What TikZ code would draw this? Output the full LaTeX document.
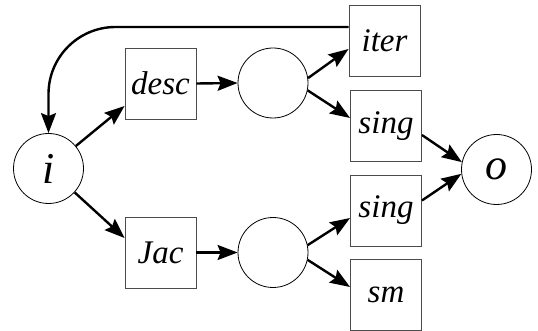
\documentclass[tikz,border=0pt]{standalone}
\usepackage{fontspec}
\setmainfont{Liberation Serif}
\usetikzlibrary{arrows.meta}
\tikzset{
  boxnode/.style={draw=black!70, line width=0.9pt, minimum size=71pt, inner sep=0pt,
    font=\fontsize{33}{33}\selectfont\itshape},
  place/.style={draw=black, line width=0.8pt, circle, minimum size=70pt, inner sep=0pt,
    font=\fontsize{44}{44}\selectfont\itshape},
  arr/.style={line width=2.4pt, -{Stealth[length=20pt,width=15pt,inset=3pt]}},
}
\begin{document}
\begin{tikzpicture}[x=1pt,y=-1pt]
\useasboundingbox (0,0) rectangle (538,331);
\node[place] (i) at (48.5,168.5) {i};
\node[boxnode] (desc) at (160.5,83.5) {desc};
\node[boxnode] (jac) at (160.5,252.5) {Jac};
\node[place] (c1) at (273,83) {};
\node[place] (c2) at (273,252.5) {};
\node[boxnode] (iter) at (384.5,41) {iter};
\node[boxnode] (singA) at (386,126) {sing};
\node[boxnode] (singB) at (386,210.5) {sing};
\node[boxnode] (sm) at (386,294.5) {sm};
\node[place] (o) at (496.5,169.5) {o};

\coordinate (fb) at ([yshift=14pt]iter.west);
\draw[arr, rounded corners=67pt] (fb) -| (i.north);

\draw[arr] (i) -- ([yshift=-22.5pt]desc.west);
\draw[arr] (i) -- ([yshift=14.5pt]jac.west);
\draw[arr] (desc.east) -- (c1.west);
\draw[arr] (jac.east) -- (c2.west);
\draw[arr] (c1.8) -- ([yshift=-8pt]iter.west);
\draw[arr] (c1.-12) -- ([yshift=8pt]singA.west);
\draw[arr] (c2.12) -- ([yshift=-7.5pt]singB.west);
\draw[arr] (c2.-12) -- ([yshift=7.5pt]sm.west);
\draw[arr] ([yshift=-9pt]singA.east) -- (o.168);
\draw[arr] ([yshift=10pt]singB.east) -- (o.-173);
\end{tikzpicture}
\end{document}
